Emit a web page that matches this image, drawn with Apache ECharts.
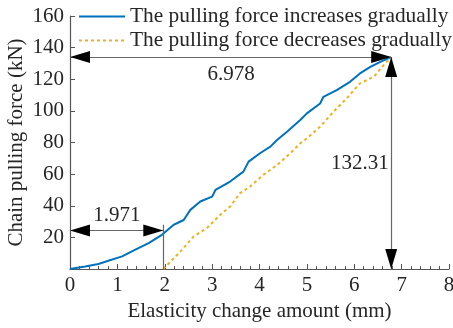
<!DOCTYPE html>
<html>
<head>
<meta charset="utf-8">
<script src="https://cdn.jsdelivr.net/npm/echarts@6/dist/echarts.min.js"></script>
<style>
html, body { margin: 0; padding: 0; background: #fff; }
#chart { width: 453px; height: 328px; }
</style>
</head>
<body>
<div id="chart"></div>
<script>
// traced curves (mm, kN)
const incX = [0, 0.32, 0.6, 0.81, 1.10, 1.38, 1.66, 1.94, 2.19, 2.40, 2.54, 2.75, 3.0, 3.07, 3.38, 3.66, 3.77, 4.01, 4.23, 4.37, 4.58, 4.86, 5.0, 5.28, 5.35, 5.63, 5.91, 6.12, 6.34, 6.55, 6.78]
const incY = [0, 1.6, 3.2, 5.2, 8, 12.2, 16.4, 21.6, 28, 31, 37.4, 42.7, 45.8, 50, 55.3, 61.6, 67.9, 73.2, 77.4, 81.6, 86.8, 94.2, 98.4, 104.7, 108.9, 113.1, 118.4, 123.7, 127.8, 131, 134]
const decX = [1.97, 2.33, 2.61, 2.89, 3.17, 3.38, 3.59, 3.80, 4.08, 4.37, 4.65, 4.86, 5.0, 5.28, 5.56, 5.84, 6.12, 6.41, 6.62, 6.78]
const decY = [0, 11.1, 20.6, 25.9, 34.3, 39.5, 48, 52.1, 59.5, 65.8, 73.2, 79.5, 82.6, 90, 99.4, 107.9, 117.4, 121.5, 128.9, 134]

const seriesNames = ['The pulling force increases gradually', 'The pulling force decreases gradually']

// annotation points
const peakX = 6.78
const peakY = 134
const startX = 1.97
const lowArrowY = 24.4
const lowLineTop = 28
const annoTexts = ['6.978', '132.31', '1.971']
const annoCoords = [[3.4, 123], [6.12, 67], [0.99, 34]]

const font = 'Liberation Serif'
const fs = 21
const txt = '#262626'

const toPairs = (xs, ys) => xs.map((x, i) => [x, ys[i]])

const arrowLines = [
    [{ coord: [0, peakY] }, { coord: [peakX, peakY] }],
    [{ coord: [peakX, 0] }, { coord: [peakX, peakY] }],
    [{ coord: [0, lowArrowY] }, { coord: [startX, lowArrowY] }]
]

const chart = echarts.init(document.getElementById('chart'))
chart.setOption({
    animation: false,
    textStyle: { fontFamily: font },
    grid: { left: 70, right: 4, top: 16, bottom: 59, outerBoundsMode: 'none', containLabel: false },
    legend: {
        orient: 'vertical',
        left: 73,
        top: 1,
        itemWidth: 46,
        itemHeight: 12,
        itemGap: 3,
        padding: 5,
        data: seriesNames,
        itemStyle: { opacity: 0 },
        textStyle: { fontFamily: font, fontSize: 21.4, color: txt }
    },
    xAxis: {
        type: 'value',
        min: 0, max: 8, interval: 1,
        name: 'Elasticity change amount (mm)',
        nameLocation: 'middle',
        nameGap: 32,
        nameMoveOverlap: false,
        nameTextStyle: { fontFamily: font, fontSize: fs, color: txt },
        axisLine: { lineStyle: { color: '#555', width: 1.2 } },
        axisTick: { inside: true, length: 5, lineStyle: { color: '#555' } },
        minorTick: { show: true, splitNumber: 5, length: 3, lineStyle: { color: '#555' } },
        axisLabel: { fontFamily: font, fontSize: fs, color: txt, margin: 6 },
        splitLine: { show: false }
    },
    yAxis: {
        type: 'value',
        min: 0, max: 160, interval: 20,
        name: 'Chain pulling force (kN)',
        nameLocation: 'middle',
        nameGap: 43,
        nameMoveOverlap: false,
        nameTextStyle: { fontFamily: font, fontSize: fs, color: txt },
        axisLine: { show: true, lineStyle: { color: '#555', width: 1.2 } },
        axisTick: { show: true, inside: true, length: 5, lineStyle: { color: '#555' } },
        axisLabel: {
            fontFamily: font, fontSize: fs, color: txt, margin: 6,
            formatter: v => (v === 0 ? '' : v)
        },
        splitLine: { show: false }
    },
    series: [
        {
            name: seriesNames[0],
            type: 'line',
            data: toPairs(incX, incY),
            showSymbol: false,
            symbol: 'none',
            lineStyle: { color: '#0072BD', width: 2 },
            itemStyle: { color: '#0072BD' }
        },
        {
            name: seriesNames[1],
            type: 'line',
            data: toPairs(decX, decY),
            showSymbol: false,
            symbol: 'none',
            lineStyle: { color: '#EDB120', width: 2, type: [3, 3] },
            itemStyle: { color: '#EDB120' }
        },
        {
            // gray lines + texts
            type: 'line',
            data: [],
            silent: true,
            markLine: {
                silent: true,
                symbol: 'none',
                label: { show: false },
                lineStyle: { color: '#666', width: 1.2, type: 'solid' },
                data: arrowLines.concat([
                    [{ coord: [startX, 0] }, { coord: [startX, lowLineTop] }]
                ])
            },
            markPoint: {
                silent: true,
                symbol: 'circle',
                symbolSize: 0,
                itemStyle: { color: 'transparent' },
                label: {
                    show: true,
                    position: 'inside',
                    fontFamily: font,
                    fontSize: fs,
                    color: txt,
                    formatter: p => p.name
                },
                data: annoTexts.map((t, i) => ({ name: t, coord: annoCoords[i] }))
            }
        },
        {
            // black arrow heads only
            type: 'line',
            data: [],
            silent: true,
            markLine: {
                silent: true,
                symbol: ['triangle', 'triangle'],
                symbolSize: [12, 20],
                symbolOffset: [[0, 10], [0, 10]],
                label: { show: false },
                lineStyle: { color: '#000', width: 0, type: 'solid' },
                data: arrowLines
            }
        }
    ]
})
</script>
</body>
</html>
